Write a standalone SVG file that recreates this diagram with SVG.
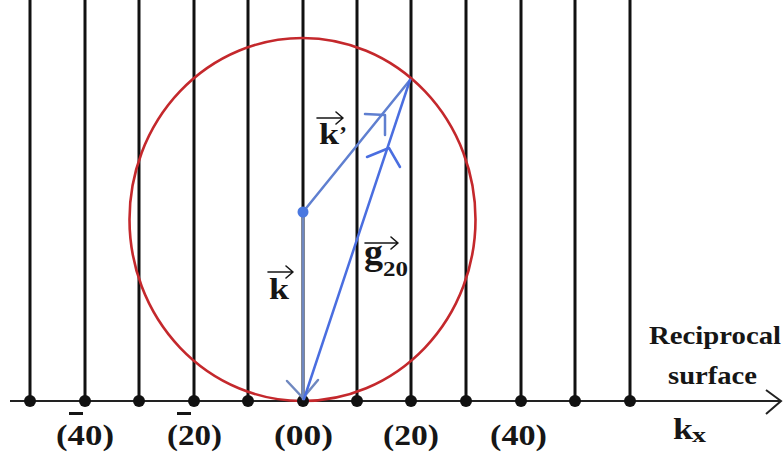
<svg xmlns="http://www.w3.org/2000/svg" width="784" height="460" viewBox="0 0 784 460">
<defs>
<style>
.rod{stroke:#111;stroke-width:3;fill:none}
.dot{fill:#111}
.axis{stroke:#222;stroke-width:2;fill:none}
.ewald{stroke:#c4282c;stroke-width:2.6;fill:none}
.vec{stroke:#5f7fd0;stroke-width:2.5;fill:none;stroke-linecap:round;stroke-linejoin:round}
.vk{stroke:#6f88c0}
.vg{stroke:#4a6ee0}
text{font-family:'Liberation Serif',serif;font-weight:700;fill:#161616}
.ov{stroke:#161616;stroke-width:1.6;fill:none;stroke-linecap:round;stroke-linejoin:round}
.bar{fill:#161616}
</style>
</defs>
<rect width="784" height="460" fill="#fff"/>
<g id="rods">
<line class="rod" x1="30" y1="0" x2="30" y2="401"/>
<line class="rod" x1="85" y1="0" x2="85" y2="401"/>
<line class="rod" x1="139" y1="0" x2="139" y2="401"/>
<line class="rod" x1="194" y1="0" x2="194" y2="401"/>
<line class="rod" x1="248" y1="0" x2="248" y2="401"/>
<line class="rod" x1="303" y1="0" x2="303" y2="401"/>
<line class="rod" x1="357" y1="0" x2="357" y2="401"/>
<line class="rod" x1="411" y1="0" x2="411" y2="401"/>
<line class="rod" x1="466" y1="0" x2="466" y2="401"/>
<line class="rod" x1="521" y1="0" x2="521" y2="401"/>
<line class="rod" x1="575" y1="0" x2="575" y2="401"/>
<line class="rod" x1="630" y1="0" x2="630" y2="401"/>
</g>
<g id="axis">
<line class="axis" x1="10" y1="401" x2="780" y2="401"/>
<polyline class="axis" points="766,390 781,401 766,414"/>
</g>
<g id="ewald-sphere">
<ellipse class="ewald" cx="302.5" cy="219.5" rx="173" ry="181.5"/>
</g>
<g id="lattice-points">
<circle class="dot" cx="30" cy="401" r="6"/>
<circle class="dot" cx="85" cy="401" r="6"/>
<circle class="dot" cx="139" cy="401" r="6"/>
<circle class="dot" cx="194" cy="401" r="6"/>
<circle class="dot" cx="248" cy="401" r="6"/>
<circle class="dot" cx="303" cy="401" r="6"/>
<circle class="dot" cx="357" cy="401" r="6"/>
<circle class="dot" cx="411" cy="401" r="6"/>
<circle class="dot" cx="466" cy="401" r="6"/>
<circle class="dot" cx="521" cy="401" r="6"/>
<circle class="dot" cx="575" cy="401" r="6"/>
<circle class="dot" cx="630" cy="401" r="6"/>
</g>
<g id="connectors">
<g id="vec-k">
<line class="vec vk" x1="303" y1="212" x2="303" y2="399"/>
<polyline class="vec vk" points="287,381 303,398 318,380"/>
</g>
<g id="vec-kprime">
<line class="vec" x1="303" y1="212" x2="410" y2="80"/>
<polyline class="vec" points="365,114 385,115 385,135"/>
</g>
<g id="vec-g20">
<line class="vec vg" x1="304" y1="399" x2="410" y2="80"/>
<polyline class="vec vg" points="367,157 389,148 400,167"/>
</g>
</g>
<g id="crystal-centre">
<circle cx="303" cy="212" r="5.5" fill="#4a78e0"/>
</g>
<g id="label-k">
<text x="269" y="299" font-size="29" textLength="20" lengthAdjust="spacingAndGlyphs">k</text>
<path class="ov" d="M268 272 H293 M286 266 L293 272 L286 278"/>
</g>
<g id="label-kprime">
<text x="319" y="144" font-size="29" textLength="20" lengthAdjust="spacingAndGlyphs">k</text>
<text x="339" y="142" font-size="24">’</text>
<path class="ov" d="M317 118 H343 M336 112 L343 118 L336 124"/>
</g>
<g id="label-g20">
<text x="364" y="264" font-size="36" textLength="19" lengthAdjust="spacingAndGlyphs">g</text>
<text x="383" y="276" font-size="20" textLength="25" lengthAdjust="spacingAndGlyphs" font-weight="400">20</text>
<path class="ov" d="M365 243 H398 M391 237 L398 243 L391 249"/>
</g>
<g id="index-labels">
<text x="56" y="445" font-size="29" textLength="58" lengthAdjust="spacingAndGlyphs">(40)</text>
<rect class="bar" x="69" y="412" width="14" height="3"/>
<text x="167" y="445" font-size="29" textLength="55" lengthAdjust="spacingAndGlyphs">(20)</text>
<rect class="bar" x="177" y="412" width="14" height="3"/>
<text x="274" y="445" font-size="29" textLength="59" lengthAdjust="spacingAndGlyphs">(00)</text>
<text x="383" y="445" font-size="29" textLength="56" lengthAdjust="spacingAndGlyphs">(20)</text>
<text x="490" y="445" font-size="29" textLength="57" lengthAdjust="spacingAndGlyphs">(40)</text>
</g>
<g id="surface-label">
<text x="649" y="344" font-size="26" textLength="132" lengthAdjust="spacingAndGlyphs">Reciprocal</text>
<text x="668" y="384" font-size="26" textLength="89" lengthAdjust="spacingAndGlyphs">surface</text>
</g>
<g id="kx-label">
<text x="673" y="439" font-size="30" textLength="20" lengthAdjust="spacingAndGlyphs">k</text>
<text x="692" y="442" font-size="22" textLength="14" lengthAdjust="spacingAndGlyphs">x</text>
</g>
</svg>
